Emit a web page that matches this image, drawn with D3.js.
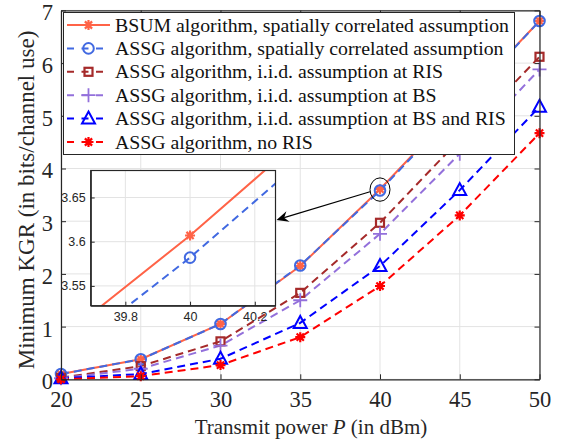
<!DOCTYPE html>
<html><head><meta charset="utf-8">
<script src="https://cdn.jsdelivr.net/npm/d3@7"></script>
<style>body{margin:0;background:#fff}</style>
</head><body>
<script>
// data
var powers = [20, 25, 30, 35, 40, 45, 50];
var bsum = [0.10, 0.38, 1.05, 2.15, 3.607, 5.20, 6.80];
var assgCorr = [0.10, 0.38, 1.05, 2.16, 3.582, 5.17, 6.80];
var assgRis = [0.03, 0.25, 0.72, 1.64, 2.97, 4.55, 6.12];
var assgBs = [0.02, 0.20, 0.64, 1.50, 2.76, 4.28, 5.88];
var assgBoth = [0.02, 0.10, 0.39, 1.07, 2.15, 3.59, 5.17];
var assgNoRis = [0.00, 0.06, 0.27, 0.80, 1.77, 3.11, 4.67];
var xTicks = [20, 25, 30, 35, 40, 45, 50];
var yTicks = [0, 1, 2, 3, 4, 5, 6, 7];
var insetXTicks = [39.8, 40, 40.2];
var insetYTicks = [3.55, 3.6, 3.65];
var labels = [
	'BSUM algorithm, spatially correlated assumption',
	'ASSG algorithm, spatially correlated assumption',
	'ASSG algorithm, i.i.d. assumption at RIS',
	'ASSG algorithm, i.i.d. assumption at BS',
	'ASSG algorithm, i.i.d. assumption at BS and RIS',
	'ASSG algorithm, no RIS'
];

var series = [
	{values: bsum, color: '#FF6347', dash: null, marker: 'asterisk'},
	{values: assgCorr, color: '#4169E1', dash: '8,5', marker: 'circle'},
	{values: assgRis, color: '#A52A2A', dash: '8,5', marker: 'square'},
	{values: assgBs, color: '#9370DB', dash: '8,5', marker: 'plus'},
	{values: assgBoth, color: '#0000FF', dash: '8,5', marker: 'triangle'},
	{values: assgNoRis, color: '#FF0000', dash: '8,5', marker: 'asterisk'}
];
series.forEach((s, i) => s.label = labels[i]);

var W = 563, H = 439;
var serif = '"Liberation Serif", "Times New Roman", Times, serif';
var svg = d3.select('body').append('svg').attr('width', W).attr('height', H)
	.attr('font-family', serif);
var axisColor = '#262626', gridColor = '#e3e3e3';

var x = d3.scaleLinear().domain([20, 50]).range([61, 539.5]);
var y = d3.scaleLinear().domain([0, 7]).range([379.3, 10.4]);

function drawMarker(g, type, cx, cy, color) {
	var m = g.append('g').attr('transform', 'translate(' + cx + ',' + cy + ')');
	if (type == 'asterisk') {
		var s = 5, d = s * 0.72;
		m.append('path').attr('d', 'M' + (-s) + ',0L' + s + ',0M0,' + (-s) + 'L0,' + s +
			'M' + (-d) + ',' + (-d) + 'L' + d + ',' + d + 'M' + (-d) + ',' + d + 'L' + d + ',' + (-d))
			.attr('stroke', color).attr('stroke-width', 2.2).attr('fill', 'none');
	} else if (type == 'circle') {
		m.append('circle').attr('r', 5.3).attr('fill', 'none').attr('stroke', color).attr('stroke-width', 2);
	} else if (type == 'square') {
		m.append('rect').attr('x', -4).attr('y', -4).attr('width', 8).attr('height', 8)
			.attr('fill', 'none').attr('stroke', color).attr('stroke-width', 2.2);
	} else if (type == 'plus') {
		m.append('path').attr('d', 'M-7,0L7,0M0,-7L0,7').attr('stroke', color).attr('stroke-width', 1.8);
	} else if (type == 'triangle') {
		m.append('path').attr('d', 'M0,-7L6.5,5L-6.5,5Z').attr('fill', 'none')
			.attr('stroke', color).attr('stroke-width', 2);
	}
}

// grid
var grid = svg.append('g');
grid.selectAll('.gx').data(xTicks).enter().append('line')
	.attr('x1', d => x(d)).attr('x2', d => x(d)).attr('y1', y(7)).attr('y2', y(0))
	.attr('stroke', gridColor).attr('stroke-width', 1);
grid.selectAll('.gy').data(yTicks).enter().append('line')
	.attr('y1', d => y(d)).attr('y2', d => y(d)).attr('x1', x(20)).attr('x2', x(50))
	.attr('stroke', gridColor).attr('stroke-width', 1);

// lines + markers
var line = d3.line().x((d, i) => x(powers[i])).y(d => y(d));
series.forEach(function(s) {
	svg.append('path').datum(s.values).attr('d', line).attr('fill', 'none')
		.attr('stroke', s.color).attr('stroke-width', 2).attr('stroke-dasharray', s.dash);
});
series.forEach(function(s) {
	var g = svg.append('g');
	s.values.forEach((v, i) => drawMarker(g, s.marker, x(powers[i]), y(v), s.color));
});

// axes
var xAxis = d3.axisBottom(x).tickValues(xTicks).tickSizeInner(-5).tickSizeOuter(0).tickPadding(12).tickFormat(d3.format('d'));
var yAxis = d3.axisLeft(y).tickValues(yTicks).tickSizeInner(-5).tickSizeOuter(0).tickPadding(8).tickFormat(d3.format('d'));
var gx = svg.append('g').attr('transform', 'translate(0,' + y(0) + ')').call(xAxis);
var gy = svg.append('g').attr('transform', 'translate(' + x(20) + ',0)').call(yAxis);
gy.selectAll('.tick text').attr('dy', '0.42em');
svg.append('g').attr('transform', 'translate(0,' + y(7) + ')')
	.call(d3.axisTop(x).tickValues(xTicks).tickSizeInner(-5).tickSizeOuter(0).tickFormat(''));
svg.append('g').attr('transform', 'translate(' + x(50) + ',0)')
	.call(d3.axisRight(y).tickValues(yTicks).tickSizeInner(-5).tickSizeOuter(0).tickFormat(''));
[gx, gy].forEach(g => g.attr('font-family', serif).attr('font-size', 22.5));
svg.selectAll('.domain').attr('stroke', axisColor).attr('stroke-width', 1.2);
svg.selectAll('.tick line').attr('stroke', axisColor);
svg.selectAll('.tick text').attr('fill', axisColor);

// axis labels
svg.append('text').attr('transform', 'translate(34,200) rotate(-90)')
	.attr('text-anchor', 'middle').attr('fill', axisColor).attr('font-size', 23)
	.text('Minimum KGR (in bits/channel use)');
var xl = svg.append('text').attr('x', 311).attr('y', 434).attr('text-anchor', 'middle')
	.attr('fill', axisColor).attr('font-size', 21);
xl.append('tspan').text('Transmit power ');
xl.append('tspan').attr('font-style', 'italic').text('P');
xl.append('tspan').text(' (in dBm)');

// legend
var lg = svg.append('g');
lg.append('rect').attr('x', 63.5).attr('y', 12.5).attr('width', 451).attr('height', 142)
	.attr('fill', '#fff').attr('stroke', axisColor).attr('stroke-width', 1);
series.forEach(function(s, i) {
	var ly = 25 + i * 23.4;
	lg.append('line').attr('x1', 67).attr('x2', 110).attr('y1', ly).attr('y2', ly)
		.attr('stroke', s.color).attr('stroke-width', 2).attr('stroke-dasharray', s.dash ? '7,7.5' : null);
	drawMarker(lg, s.marker, 88.5, ly, s.color);
	lg.append('text').attr('x', 115).attr('y', ly + 6.5).attr('fill', '#111').attr('font-size', 19.8).text(s.label);
});

// inset
var ix = d3.scaleLinear().domain([39.693, 40.264]).range([90.7, 275.5]);
var iy = d3.scaleLinear().domain([3.5276, 3.6805]).range([305.7, 170.5]);
var ins = svg.append('g');
ins.append('rect').attr('x', 90.7).attr('y', 170.5).attr('width', 184.8).attr('height', 135.2).attr('fill', '#fff');
ins.selectAll('.igx').data(insetXTicks).enter().append('line')
	.attr('x1', d => ix(d)).attr('x2', d => ix(d)).attr('y1', 170.5).attr('y2', 305.7)
	.attr('stroke', gridColor);
ins.selectAll('.igy').data(insetYTicks).enter().append('line')
	.attr('y1', d => iy(d)).attr('y2', d => iy(d)).attr('x1', 90.7).attr('x2', 275.5)
	.attr('stroke', gridColor);
svg.append('clipPath').attr('id', 'insclip').append('rect')
	.attr('x', 90.7).attr('y', 170.5).attr('width', 184.8).attr('height', 135.2);
var iline = d3.line().x((d, i) => ix(powers[i])).y(d => iy(d));
var ic = ins.append('g').attr('clip-path', 'url(#insclip)');
series.slice(0, 2).forEach(function(s) {
	ic.append('path').datum(s.values).attr('d', iline).attr('fill', 'none')
		.attr('stroke', s.color).attr('stroke-width', 2).attr('stroke-dasharray', s.dash);
	drawMarker(ic, s.marker, ix(40), iy(s.values[powers.indexOf(40)]), s.color);
});
var ixa = ins.append('g').attr('transform', 'translate(0,305.7)')
	.call(d3.axisBottom(ix).tickValues(insetXTicks).tickSizeInner(-4).tickSizeOuter(0).tickPadding(6).tickFormat(d3.format('')));
var iya = ins.append('g').attr('transform', 'translate(90.7,0)')
	.call(d3.axisLeft(iy).tickValues(insetYTicks).tickSizeInner(-4).tickSizeOuter(0).tickPadding(5).tickFormat(d3.format('')));
[ixa, iya].forEach(g => g.attr('font-family', '"Liberation Sans", Arial, sans-serif').attr('font-size', 12.5));
ins.append('rect').attr('x', 90.7).attr('y', 170.5).attr('width', 184.8).attr('height', 135.2)
	.attr('fill', 'none').attr('stroke', axisColor).attr('stroke-width', 1.2);
ins.selectAll('.domain').attr('stroke', axisColor).attr('stroke-width', 1.2);
ins.selectAll('.tick line').attr('stroke', axisColor);
ins.selectAll('.tick text').attr('fill', axisColor);

// ellipse + arrow
svg.append('ellipse').attr('cx', x(40)).attr('cy', y(3.6)).attr('rx', 10).attr('ry', 11.7)
	.attr('fill', 'none').attr('stroke', '#000').attr('stroke-width', 1);
var ax1 = 370, ay1 = 191.7, ax2 = 276.5, ay2 = 220;
var ang = Math.atan2(ay2 - ay1, ax2 - ax1);
svg.append('line').attr('x1', ax1).attr('y1', ay1)
	.attr('x2', ax2 - 8 * Math.cos(ang)).attr('y2', ay2 - 8 * Math.sin(ang))
	.attr('stroke', '#000').attr('stroke-width', 1.2);
var hl = 12, hw = 5.5, nb = 8;
var bx = ax2 - hl * Math.cos(ang), by = ay2 - hl * Math.sin(ang);
var nx = ax2 - nb * Math.cos(ang), ny = ay2 - nb * Math.sin(ang);
var px = -Math.sin(ang), py = Math.cos(ang);
svg.append('path').attr('d', 'M' + ax2 + ',' + ay2 + 'L' + (bx + hw * px) + ',' + (by + hw * py) +
	'L' + nx + ',' + ny + 'L' + (bx - hw * px) + ',' + (by - hw * py) + 'Z').attr('fill', '#000');
</script>
</body></html>
